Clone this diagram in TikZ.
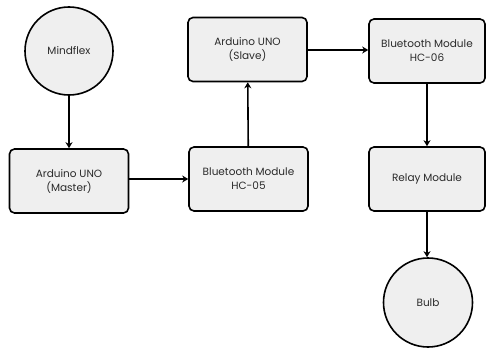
\documentclass[tikz,border=0pt]{standalone}
\usepackage{fontspec}
\setmainfont{Poppins}
\usetikzlibrary{arrows.meta}
\definecolor{boxfill}{HTML}{EFEFEF}
\definecolor{txt}{HTML}{2A2A2A}
\tikzset{
  blk/.style={draw=black, line width=1.6pt, fill=boxfill, rounded corners=5pt,
    minimum width=119pt, minimum height=64pt, align=center, text=txt,
    font=\fontsize{10.5}{14}\selectfont, inner sep=0pt},
  circ/.style={draw=black, line width=1.6pt, fill=boxfill, circle,
    minimum size=88pt, align=center, text=txt, font=\fontsize{10.5}{14}\selectfont, inner sep=0pt},
  conn/.style={line width=1.6pt, -{Stealth[length=6pt,width=7pt]}}
}
\begin{document}
\begin{tikzpicture}[x=1pt,y=-1pt]
\useasboundingbox (0,0) rectangle (486,348);
\node[circ] (mind) at (69,51) {Mindflex};
\node[blk] (master) at (69,181) {Arduino UNO\\(Master)};
\node[blk] (hc05) at (248.5,179) {Bluetooth Module\\HC-05};
\node[blk] (slave) at (247.5,49.5) {Arduino UNO\\(Slave)};
\node[blk, minimum width=116pt] (hc06) at (427,51) {Bluetooth Module\\HC-06};
\node[blk, minimum width=116pt] (relay) at (427,179) {Relay Module};
\node[circ, minimum size=89pt] (bulb) at (428,302.5) {Bulb};
\draw[conn] (mind) -- (master);
\draw[conn] (master.east |- 0,179) -- (hc05.west |- 0,179);
\draw[conn] (hc05) -- (slave);
\draw[conn] (slave.east |- 0,50) -- (hc06.west |- 0,50);
\draw[conn] (hc06) -- (relay);
\draw[conn] (relay.south) -- (relay.south |- bulb.north);
\end{tikzpicture}
\end{document}
